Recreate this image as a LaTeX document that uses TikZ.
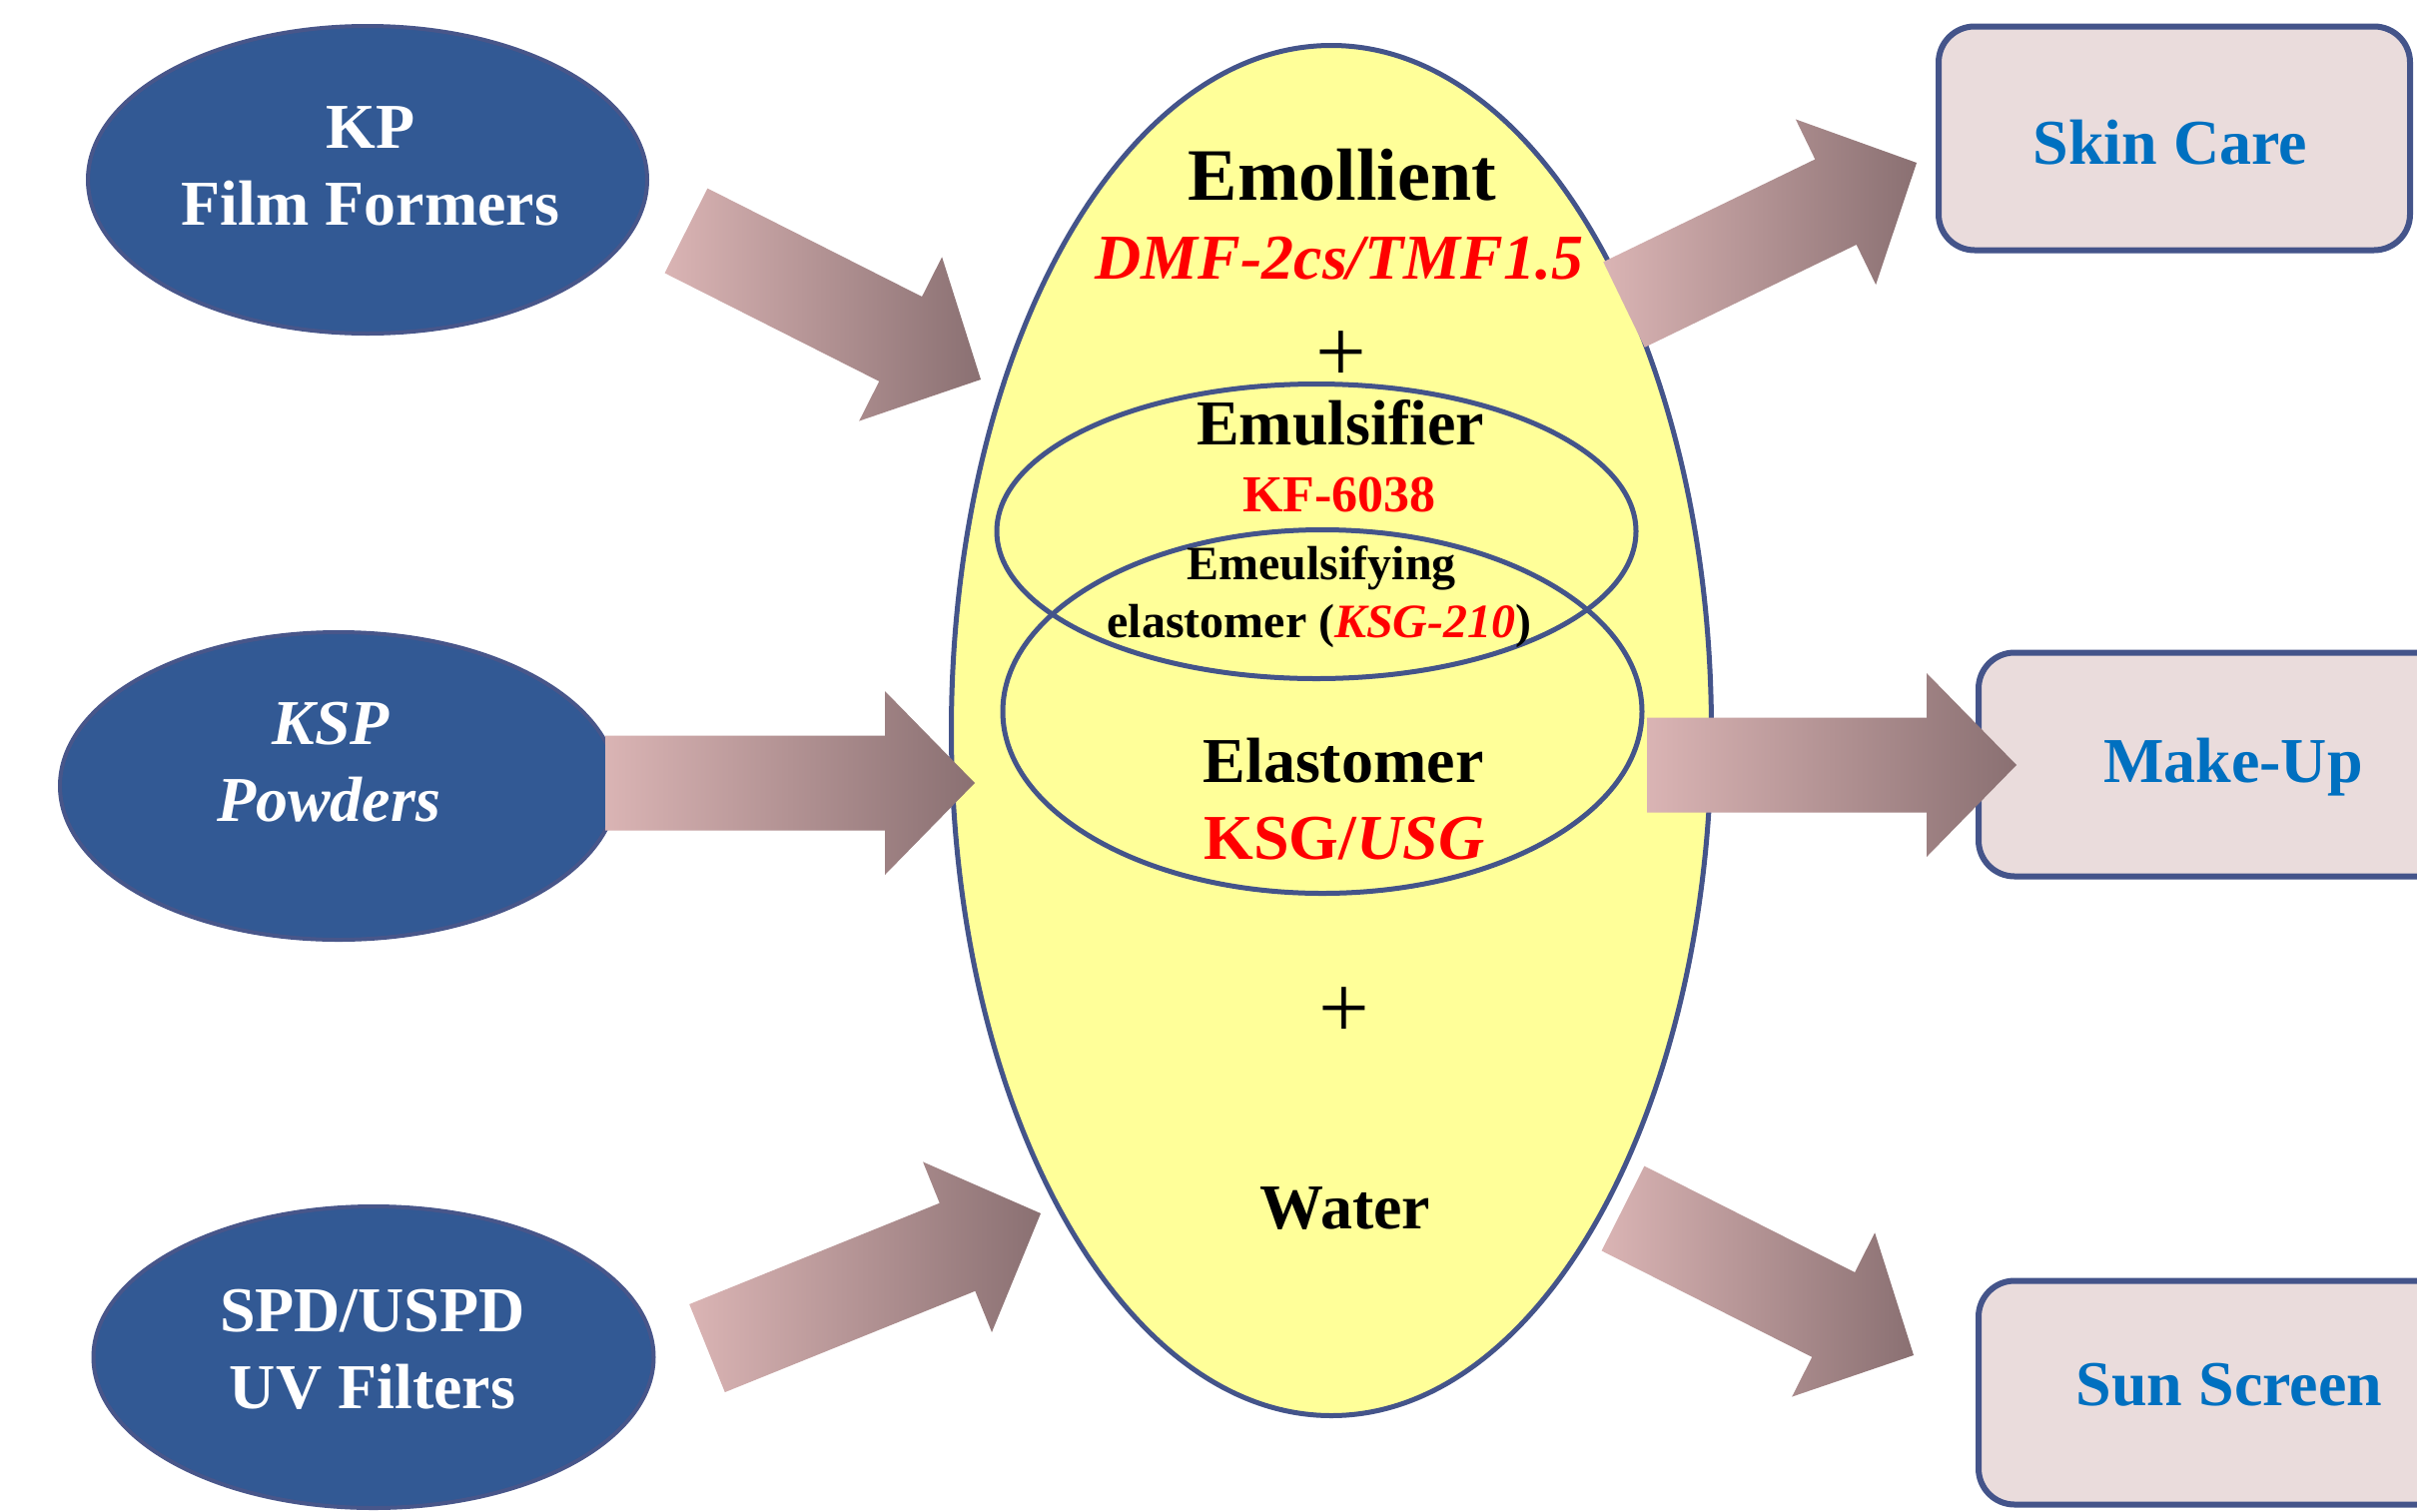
\documentclass[tikz,border=0pt]{standalone}
\usepackage{fontspec}
\setmainfont{Liberation Serif}
\usetikzlibrary{shapes.geometric,calc}
\definecolor{blueFill}{RGB}{50,89,148}
\definecolor{blueLine}{RGB}{72,86,138}
\definecolor{ellLine}{RGB}{68,84,138}
\definecolor{yel}{RGB}{255,255,153}
\definecolor{boxFill}{RGB}{234,220,220}
\definecolor{txtBlue}{RGB}{0,112,192}
\definecolor{arrL}{RGB}{218,180,180}
\definecolor{arrR}{RGB}{138,112,114}
\newcommand\fsz[1]{\fontsize{#1}{#1}\selectfont}
\tikzset{
  srcell/.style={ellipse, fill=blueFill, draw=blueLine, line width=4pt, inner sep=0pt},
  mixell/.style={ellipse, draw=ellLine, line width=5pt, inner sep=0pt},
  prodbox/.style={rectangle, rounded corners=36pt, fill=boxFill, draw=ellLine, line width=6pt, inner sep=0pt},
  lbl/.style={anchor=base, inner sep=0pt, outer sep=0pt, font=\bfseries\fsz{64}},
  whitelbl/.style={lbl, text=white},
  redlbl/.style={lbl, text=red},
  prodlbl/.style={lbl, text=txtBlue},
  arrowfill/.style={left color=arrL, right color=arrR, draw=none},
}
\def\shaftw{47.5pt}
\def\headw{92pt}
\def\headl{90pt}
\newcommand\blockarr[2]{%
  \coordinate (hb) at ($(#2)!\headl!(#1)$);
  \shade[arrowfill] ($(#1)!\shaftw!90:(#2)$) -- ($(hb)!\shaftw!90:(#2)$) -- ($(hb)!\headw!90:(#2)$) -- (#2) -- ($(hb)!\headw!-90:(#2)$) -- ($(hb)!\shaftw!-90:(#2)$) -- ($(#1)!\shaftw!-90:(#2)$) -- cycle;}
\begin{document}
\begin{tikzpicture}[x=1pt,y=-1pt]
\useasboundingbox (0,0) rectangle (2420,1513);
\clip (0,0) rectangle (2420,1513);
\fill[white] (0,0) rectangle (2420,1513);

% source ellipses
\node[srcell, minimum width=560, minimum height=308] (kp) at (368,180) {};
\node[srcell, minimum width=558, minimum height=308] (ksp) at (339,787) {};
\node[srcell, minimum width=561, minimum height=302] (spd) at (374,1359) {};

% product boxes
\node[prodbox, minimum width=472, minimum height=224] (skin) at (2177,138.5) {};
\node[prodbox, minimum width=510, minimum height=224] (makeup) at (2236,765.5) {};
\node[prodbox, minimum width=510, minimum height=224] (sun) at (2236,1394.5) {};

% mixture
\node[ellipse, fill=yel, draw=ellLine, line width=5pt, inner sep=0pt, minimum width=761, minimum height=1372] (mix) at (1333,731.5) {};
\node[mixell, minimum width=640, minimum height=295] (emul) at (1318,532) {};
\node[mixell, minimum width=640, minimum height=364] (elast) at (1324,712.5) {};

% source labels
\node[whitelbl] (kpA) at (371,148) {KP};
\node[whitelbl] (kpB) at (371,225) {Film Formers};
\node[whitelbl, font=\bfseries\itshape\fsz{64}] (kspA) at (331,745) {KSP};
\node[whitelbl, font=\bfseries\itshape\fsz{64}] (kspB) at (329,822) {Powders};
\node[whitelbl] (spdA) at (373,1333) {SPD/USPD};
\node[whitelbl] (spdB) at (373,1410) {UV Filters};

% mixture labels
\node[lbl, font=\bfseries\fsz{74}] (emo) at (1344,200) {Emollient};
\node[redlbl, font=\bfseries\itshape\fsz{64}] (dmf) at (1341,279) {DMF-2cs/TMF1.5};
\node[lbl, font=\fsz{90}, anchor=center] (plusA) at (1343,357) {+};
\node[lbl] (emu) at (1342,445) {Emulsifier};
\node[redlbl, font=\bfseries\fsz{52}] (kf) at (1341,512) {KF-6038};
\node[lbl, font=\bfseries\fsz{48}] (emuls) at (1323,580) {Emeulsifying};
\node[lbl, font=\bfseries\fsz{48}] (elas) at (1321,638) {elastomer (\textcolor{red}{\itshape KSG-210})};
\node[lbl] (elastT) at (1345,783) {Elastomer};
\node[redlbl] (ksg) at (1346,860) {KSG/\textit{USG}};
\node[lbl, font=\fsz{90}, anchor=center] (plusB) at (1346,1014) {+};
\node[lbl] (water) at (1347,1230) {Water};

% product labels
\node[prodlbl] (skinT) at (2173,164) {Skin Care};
\node[prodlbl] (makeupT) at (2236,783) {Make-Up};
\node[prodlbl] (sunT) at (2232,1407) {Sun Screen};

% block arrows
\coordinate (a1s) at (687,231);  \coordinate (a1e) at (982,380);
\coordinate (a2s) at (606,784);  \coordinate (a2e) at (976,784);
\coordinate (a3s) at (708,1350); \coordinate (a3e) at (1042,1215);
\coordinate (a4s) at (1626,305); \coordinate (a4e) at (1919,163);
\coordinate (a5s) at (1649,766); \coordinate (a5e) at (2019,766);
\coordinate (a6s) at (1625,1210); \coordinate (a6e) at (1916,1357);
\blockarr{a1s}{a1e}
\blockarr{a2s}{a2e}
\blockarr{a3s}{a3e}
\blockarr{a4s}{a4e}
\blockarr{a5s}{a5e}
\blockarr{a6s}{a6e}
\end{tikzpicture}
\end{document}
